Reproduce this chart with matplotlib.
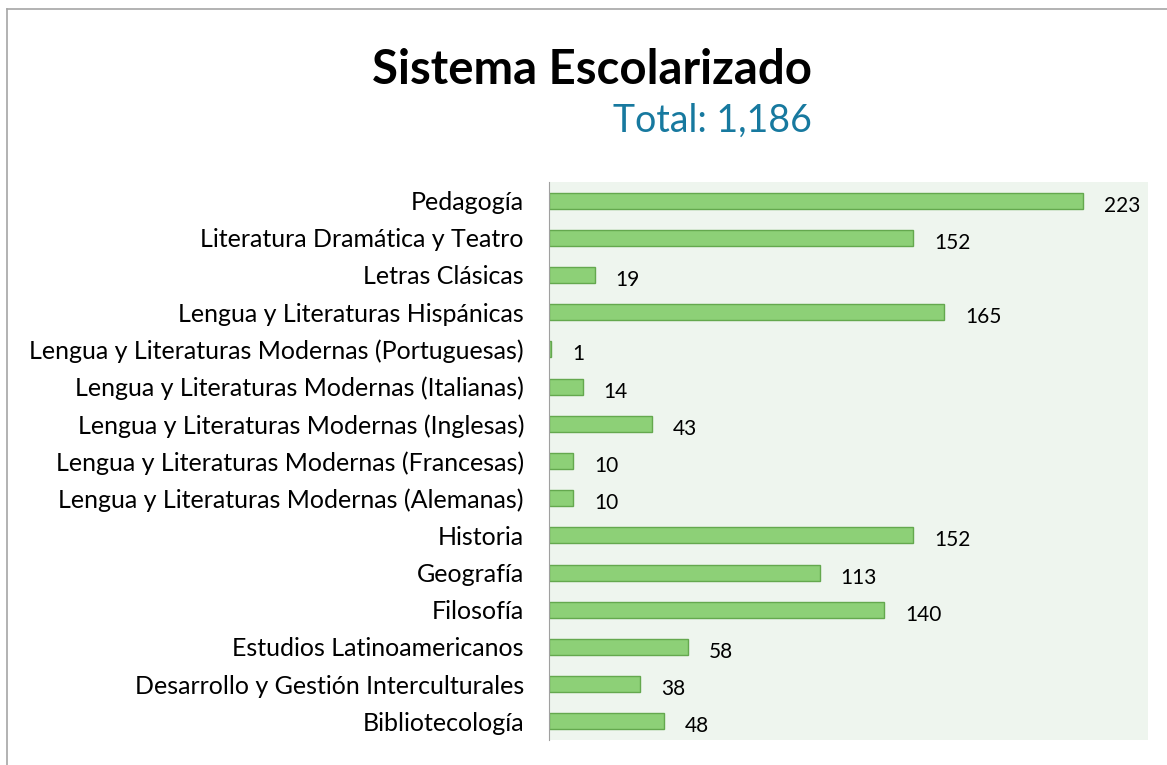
import matplotlib.pyplot as plt

#### 00 data
carreras = [
    "Pedagogía",
    "Literatura Dramática y Teatro",
    "Letras Clásicas",
    "Lengua y Literaturas Hispánicas",
    "Lengua y Literaturas Modernas (Portuguesas)",
    "Lengua y Literaturas Modernas (Italianas)",
    "Lengua y Literaturas Modernas (Inglesas)",
    "Lengua y Literaturas Modernas (Francesas)",
    "Lengua y Literaturas Modernas (Alemanas)",
    "Historia",
    "Geografía",
    "Filosofía",
    "Estudios Latinoamericanos",
    "Desarrollo y Gestión Interculturales",
    "Bibliotecología",
]
alumnos = [223, 152, 19, 165, 1, 14, 43, 10, 10, 152, 113, 140, 58, 38, 48]
titulo = "Sistema Escolarizado"
subtitulo = "Total: 1,186"

#### 01 plot
plt.rcParams["font.family"] = ["Lato", "DejaVu Sans"]

fig = plt.figure(figsize = (11.67, 7.65), dpi = 100)
W, H = 1167, 765

# chart frame (top and left border lines)
fig.add_artist(plt.Line2D([7 / W, 1], [1 - 9 / H, 1 - 9 / H], color = "#a6a6a6", lw = 1.2))
fig.add_artist(plt.Line2D([7 / W, 7 / W], [0, 1 - 9 / H], color = "#a6a6a6", lw = 1.2))

ax = fig.add_axes([549 / W, 1 - 740 / H, (1148 - 549) / W, (740 - 182) / H])
ax.set_facecolor("#eef5ee")

pos = list(range(len(carreras)))
ax.barh(pos, alumnos, height = 0.43, color = "#8dd077", edgecolor = "#64a84e", linewidth = 1)

for y, v in zip(pos, alumnos):
    ax.annotate(str(v), (v, y), xytext = (21, -5), textcoords = "offset pixels",
                ha = "left", va = "center", fontsize = 15, color = "black")

ax.set_xlim(0, 250)
ax.set_ylim(len(carreras) - 0.5, -0.5)
ax.set_yticks(pos)
ax.set_yticklabels(carreras, fontsize = 18)
ax.set_xticks([])
ax.tick_params(axis = "y", length = 0, pad = 18)
for s in ["top", "right", "bottom"]:
    ax.spines[s].set_visible(False)
ax.spines["left"].set_color("#a0a0a0")

fig.text(812 / W, 1 - 70 / H, titulo, ha = "right", va = "center", fontsize = 34, fontweight = "bold")
fig.text(812 / W, 1 - 121 / H, subtitulo, ha = "right", va = "center", fontsize = 27, color = "#17799f")

#### 02 save
plt.savefig("out.png", dpi = 100)
